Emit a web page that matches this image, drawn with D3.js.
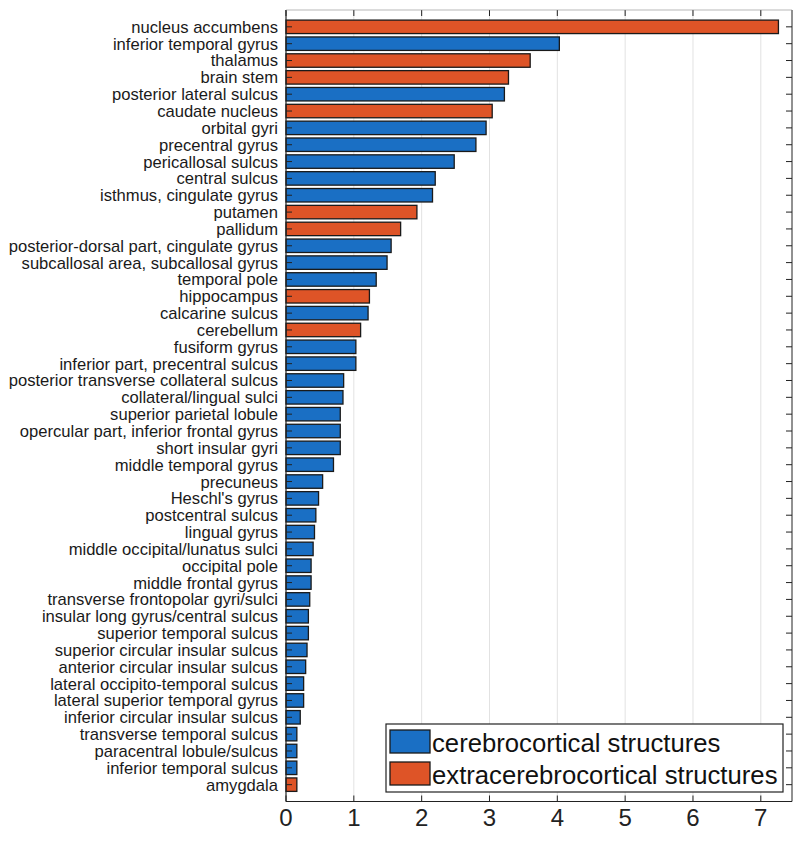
<!DOCTYPE html>
<html><head><meta charset="utf-8">
<script src="https://cdn.jsdelivr.net/npm/d3@7"></script>
<style>html,body{margin:0;padding:0;background:#fff;}</style>
</head><body>
<svg id="c" width="800" height="857"></svg>
<script>
const categories = ["nucleus accumbens","inferior temporal gyrus","thalamus","brain stem","posterior lateral sulcus","caudate nucleus","orbital gyri","precentral gyrus","pericallosal sulcus","central sulcus","isthmus, cingulate gyrus","putamen","pallidum","posterior-dorsal part, cingulate gyrus","subcallosal area, subcallosal gyrus","temporal pole","hippocampus","calcarine sulcus","cerebellum","fusiform gyrus","inferior part, precentral sulcus","posterior transverse collateral sulcus","collateral/lingual sulci","superior parietal lobule","opercular part, inferior frontal gyrus","short insular gyri","middle temporal gyrus","precuneus","Heschl's gyrus","postcentral sulcus","lingual gyrus","middle occipital/lunatus sulci","occipital pole","middle frontal gyrus","transverse frontopolar gyri/sulci","insular long gyrus/central sulcus","superior temporal sulcus","superior circular insular sulcus","anterior circular insular sulcus","lateral occipito-temporal sulcus","lateral superior temporal gyrus","inferior circular insular sulcus","transverse temporal sulcus","paracentral lobule/sulcus","inferior temporal sulcus","amygdala"];
const values = [7.26,4.03,3.60,3.28,3.22,3.04,2.95,2.80,2.48,2.20,2.16,1.93,1.69,1.55,1.49,1.33,1.23,1.21,1.10,1.03,1.03,0.85,0.84,0.80,0.80,0.80,0.70,0.54,0.48,0.44,0.42,0.40,0.37,0.37,0.35,0.33,0.33,0.31,0.29,0.26,0.26,0.21,0.16,0.16,0.16,0.16];
const groups = ["extra","cereb","extra","extra","cereb","extra","cereb","cereb","cereb","cereb","cereb","extra","extra","cereb","cereb","cereb","extra","cereb","extra","cereb","cereb","cereb","cereb","cereb","cereb","cereb","cereb","cereb","cereb","cereb","cereb","cereb","cereb","cereb","cereb","cereb","cereb","cereb","cereb","cereb","cereb","cereb","cereb","cereb","cereb","extra"];
const xTicks = [0,1,2,3,4,5,6,7];
const legendKeys = ["cereb","extra"];
const legendLabels = ["cerebrocortical structures","extracerebrocortical structures"];

const colors = {cereb:"#1A6FC4", extra:"#DE5427"};
const svg = d3.select("#c");
const L = 286, R = 792, T = 10, B = 801.5;
const font = "Liberation Sans, Arial, sans-serif";

const x = d3.scaleLinear().domain([0, 7.46]).range([L, R]);
const y = d3.scaleBand().domain(categories).range([T, B]).paddingInner(0.2).paddingOuter(0.6);

// gridlines
svg.append("g").selectAll("line").data(xTicks.filter(d=>d>0)).join("line")
  .attr("x1", d=>x(d)).attr("x2", d=>x(d)).attr("y1", T).attr("y2", B)
  .attr("stroke", "#e2e2e2").attr("stroke-width", 1);

// bars
svg.append("g").selectAll("rect").data(categories).join("rect")
  .attr("x", x(0)).attr("y", d=>y(d))
  .attr("width", (d,i)=>x(values[i]) - x(0)).attr("height", y.bandwidth())
  .attr("fill", (d,i)=>colors[groups[i]])
  .attr("stroke", "#1a1a1a").attr("stroke-width", 1.3);

// y ticks (inward, left and right)
const yt = svg.append("g");
categories.forEach(c => {
  const yc = y(c) + y.bandwidth()/2;
  yt.append("line").attr("x1", L).attr("x2", L+6).attr("y1", yc).attr("y2", yc).attr("stroke","#222").attr("stroke-width",1);
  yt.append("line").attr("x1", R-6).attr("x2", R).attr("y1", yc).attr("y2", yc).attr("stroke","#222").attr("stroke-width",1);
});

// category labels
svg.append("g").selectAll("text").data(categories).join("text")
  .attr("x", 278).attr("y", d=>y(d)+y.bandwidth()/2).attr("dy","0.36em")
  .attr("text-anchor","end").attr("font-family", font).attr("font-size", 16.6)
  .attr("fill","#1a1a1a").text(d=>d);

// x ticks inward top & bottom
const xt = svg.append("g");
xTicks.forEach(t => {
  xt.append("line").attr("x1", x(t)).attr("x2", x(t)).attr("y1", B).attr("y2", B-6).attr("stroke","#222");
  xt.append("line").attr("x1", x(t)).attr("x2", x(t)).attr("y1", T).attr("y2", T+6).attr("stroke","#222");
});
svg.append("g").selectAll("text").data(xTicks).join("text")
  .attr("x", d=>x(d)).attr("y", 826).attr("text-anchor","middle")
  .attr("font-family", font).attr("font-size", 24).attr("fill","#222").text(d=>d);

// frame
svg.append("line").attr("x1",L).attr("x2",R).attr("y1",B).attr("y2",B).attr("stroke","#222").attr("stroke-width",1.2);
svg.append("line").attr("x1",L).attr("x2",L).attr("y1",T).attr("y2",B).attr("stroke","#222").attr("stroke-width",1.2);
svg.append("line").attr("x1",R).attr("x2",R).attr("y1",T).attr("y2",B).attr("stroke","#222").attr("stroke-width",1);
svg.append("line").attr("x1",L).attr("x2",R).attr("y1",T).attr("y2",T).attr("stroke","#888").attr("stroke-width",0.6);

// legend
const lg = svg.append("g");
lg.append("rect").attr("x",386).attr("y",724).attr("width",397).attr("height",68)
  .attr("fill","#fff").attr("stroke","#222").attr("stroke-width",1.2);
legendKeys.forEach((k,i) => {
  const yy = 730 + i*32;
  lg.append("rect").attr("x",390).attr("y",yy).attr("width",40).attr("height",23)
    .attr("fill",colors[k]).attr("stroke","#1a1a1a").attr("stroke-width",1.3);
  lg.append("text").attr("x",432).attr("y",yy+21.5).attr("font-family",font).attr("font-size",25.7)
    .attr("fill","#111").text(legendLabels[i]);
});
</script>
</body></html>
